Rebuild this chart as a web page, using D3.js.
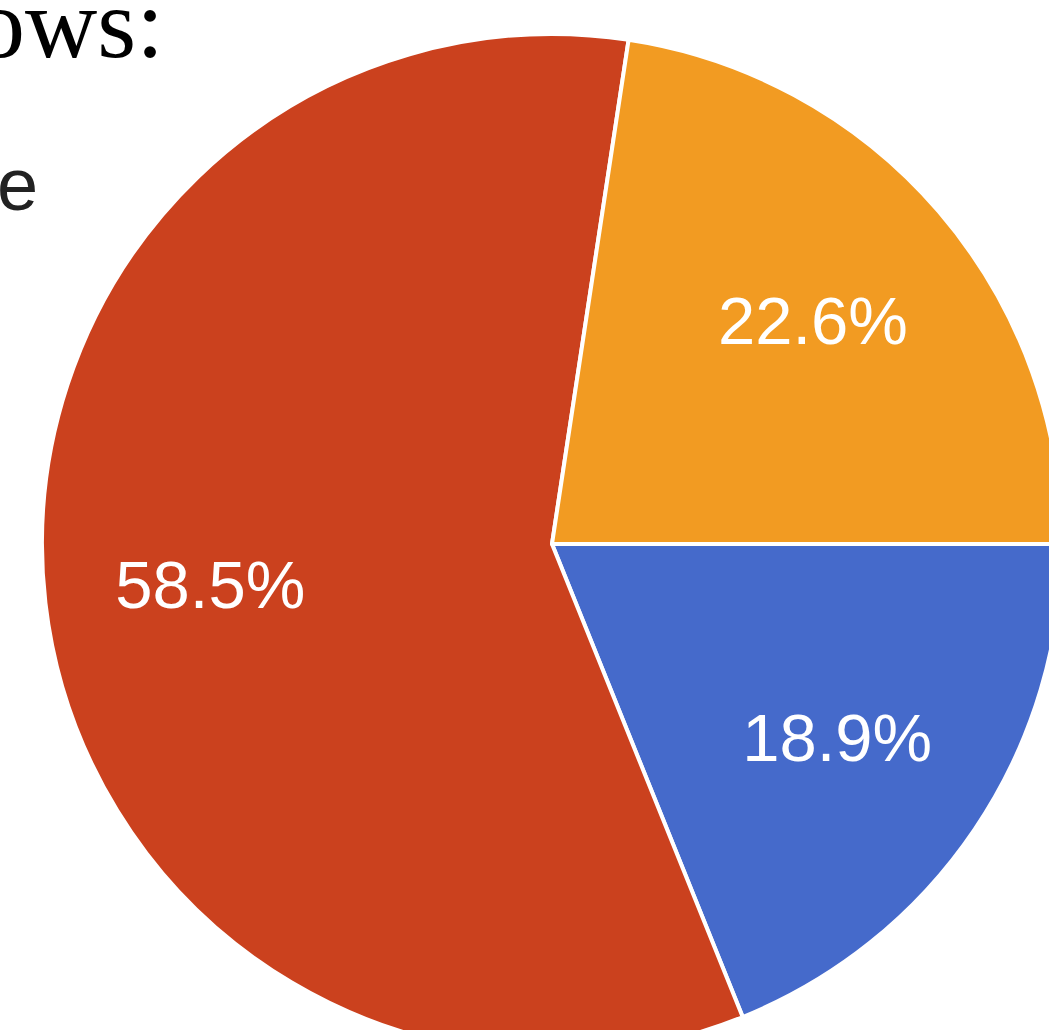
<!DOCTYPE html>
<html>
<head>
<meta charset="utf-8">
<script src="https://cdn.jsdelivr.net/npm/d3@7"></script>
<style>
  html, body { margin: 0; padding: 0; background: #fff; overflow: hidden; }
  svg { display: block; }
</style>
</head>
<body>
<div id="chart"></div>
<script>
const width = 1049;
const height = 1030;

// slices in clockwise order, starting at 3 o'clock
const categories = ['blue', 'red', 'orange'];
const values = [18.9, 58.5, 22.6];
const colors = ['#456acb', '#cb411e', '#f29b22'];

const cx = 552;
const cy = 544;
const radius = 510;
const labelRadius = 344;

const svg = d3.select('#chart')
    .append('svg')
    .attr('width', width)
    .attr('height', height);

// leftover text from the surrounding document, cut by the crop
svg.append('text')
    .attr('x', -25)
    .attr('y', 57)
    .attr('font-family', '"Liberation Serif", "Times New Roman", serif')
    .attr('font-size', 100)
    .attr('fill', '#000')
    .text('ows:');

svg.append('text')
    .attr('x', -3)
    .attr('y', 210)
    .attr('font-family', '"Liberation Sans", Arial, sans-serif')
    .attr('font-size', 74)
    .attr('fill', '#222')
    .text('e');

const pie = d3.pie()
    .sort(null)
    .startAngle(Math.PI / 2)
    .endAngle(Math.PI / 2 + 2 * Math.PI)
    .value(d => d.value);

const data = pie(categories.map((c, i) => ({ name: c, value: values[i], color: colors[i] })));

const arc = d3.arc().innerRadius(0).outerRadius(radius);
const labelArc = d3.arc().innerRadius(labelRadius).outerRadius(labelRadius);

const g = svg.append('g').attr('transform', `translate(${cx},${cy})`);

g.selectAll('path')
    .data(data)
    .join('path')
    .attr('d', arc)
    .attr('fill', d => d.data.color)
    .attr('stroke', '#fff')
    .attr('stroke-width', 4)
    .attr('stroke-linejoin', 'round');

g.selectAll('text')
    .data(data)
    .join('text')
    .attr('transform', d => `translate(${labelArc.centroid(d)})`)
    .attr('text-anchor', 'middle')
    .attr('dy', '0.36em')
    .attr('font-family', '"Liberation Sans", Arial, sans-serif')
    .attr('font-size', 67)
    .attr('fill', '#fff')
    .text(d => d.data.value.toFixed(1) + '%');
</script>
</body>
</html>
